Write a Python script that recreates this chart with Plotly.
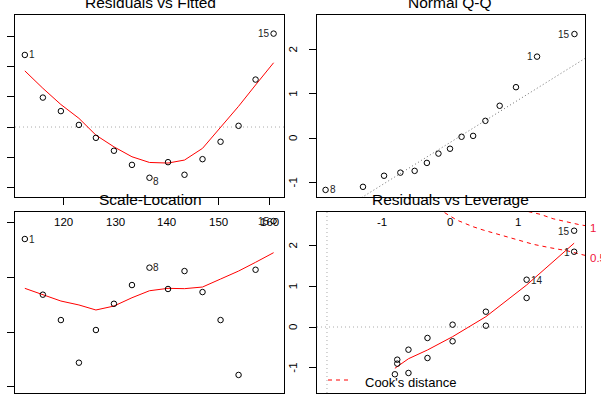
import plotly.graph_objects as go

FONT = "Liberation Sans, Arial, sans-serif"
W, H = 601, 394

# ---------------- data ----------------
# Residuals vs Fitted
fitted = [112.4, 115.9, 119.4, 122.9, 126.2, 129.7, 133.2, 136.6, 140.2, 143.4, 146.9, 150.4, 153.9, 157.2, 160.7]
resid = [2.40, 0.98, 0.53, 0.07, -0.36, -0.79, -1.26, -1.69, -1.17, -1.59, -1.07, -0.49, 0.04, 1.58, 3.11]
resid_smooth = [1.87, 1.29, 0.75, 0.29, -0.27, -0.66, -0.99, -1.18, -1.20, -1.10, -0.71, 0.00, 0.69, 1.40, 2.14]
resid_labels = {0: "1", 7: "8", 14: "15"}
fitted_ticks = [120, 150, 160]
fitted_ticklabels = [120, 130, 140, 150, 160]
resid_ticks = [3, 2, 1, 0, -1, -2]

# Normal Q-Q
theo_q = [-1.83, -1.28, -0.97, -0.73, -0.52, -0.34, -0.17, 0.0, 0.17, 0.34, 0.52, 0.73, 0.97, 1.28, 1.83]
std_resid_sorted = [-1.17, -1.10, -0.85, -0.78, -0.74, -0.56, -0.35, -0.24, 0.03, 0.05, 0.39, 0.73, 1.15, 1.84, 2.35]
qq_labels = {0: "8", 13: "1", 14: "15"}
qq_intercept = -0.10
qq_slope = 0.957
qq_xticks = [-1, 0, 1]
qq_yticks = [2, 1, 0, -1]

# Scale-Location
sqrt_std_resid = [1.353, 0.844, 0.612, 0.222, 0.521, 0.761, 0.932, 1.091, 0.896, 1.060, 0.868, 0.612, 0.110, 1.072, 1.517]
sl_smooth = [0.902, 0.847, 0.786, 0.750, 0.704, 0.740, 0.816, 0.880, 0.902, 0.899, 0.914, 0.987, 1.060, 1.140, 1.228]
sl_labels = {0: "1", 7: "8", 14: "15"}
sl_yticks = [1.5, 1.0, 0.5, 0.0]

# Residuals vs Leverage
leverage = [0.364, 0.364, 0.294, 0.294, 0.234, 0.234, 0.185, 0.185, 0.148, 0.148, 0.120, 0.120, 0.1035, 0.1035, 0.100]
lev_std_resid = [2.366, 1.850, 1.162, 0.713, 0.376, 0.032, 0.057, -0.351, -0.270, -0.762, -0.558, -1.130, -0.803, -0.901, -1.162]
lev_labels = {0: "15", 1: "1", 2: "14"}
lev_smooth_x = [0.100, 0.1035, 0.120, 0.148, 0.185, 0.234, 0.294, 0.364]
lev_smooth_y = [-1.015, -0.975, -0.780, -0.565, -0.238, 0.253, 1.032, 2.060]
cook05_x = [0.165, 0.171, 0.191, 0.215, 0.230, 0.255, 0.279, 0.304, 0.328, 0.353, 0.373, 0.385]
cook05_y = [2.95, 2.833, 2.629, 2.465, 2.383, 2.260, 2.137, 2.031, 1.950, 1.875, 1.790, 1.740]
cook1_x = [0.285, 0.294, 0.314, 0.333, 0.353, 0.373, 0.385]
cook1_y = [2.88, 2.84, 2.77, 2.66, 2.58, 2.51, 2.48]
cook_levels = ["1", "0.5"]
cook_label_y = [2.43, 1.70]
lev_yticks = [2, 1, 0, -1]

# ---------------- layout helpers ----------------
def fx(p):
    return p / W

def fy(p):
    return 1 - p / H

BOX = {
    1: ((15, 284), (15, 197)),
    2: ((317, 585), (15, 197)),
    3: ((15, 284), (212, 393)),
    4: ((317, 585), (212, 393)),
}
XR = {1: [110.49, 162.72], 2: [-1.956, 1.985], 3: [110.49, 162.72], 4: [-0.0147, 0.380]}
YR = {1: [-2.33, 3.73], 2: [-1.33, 2.78], 3: [-0.055, 1.600], 4: [-1.622, 2.826]}
XT = {1: fitted_ticks, 2: [], 3: [], 4: []}
YT = {1: resid_ticks, 2: qq_yticks, 3: sl_yticks, 4: lev_yticks}

fig = go.Figure()
layout = dict(
    width=W, height=H, margin=dict(l=0, r=0, t=0, b=0),
    paper_bgcolor="white", plot_bgcolor="white", showlegend=False,
    font=dict(family=FONT, color="black"),
)
for i in (1, 2, 3, 4):
    (x0, x1), (y0, y1) = BOX[i]
    sfx = "" if i == 1 else str(i)
    common = dict(showgrid=False, zeroline=False, showline=True, mirror=True,
                  linecolor="black", linewidth=1, showticklabels=False,
                  ticklen=7, tickcolor="black", tickwidth=1)
    layout["xaxis" + sfx] = dict(domain=[fx(x0), fx(x1)], range=XR[i],
                                 anchor="y" + sfx, tickmode="array", tickvals=XT[i],
                                 ticks="outside" if XT[i] else "", **common)
    layout["yaxis" + sfx] = dict(domain=[fy(y1), fy(y0)], range=YR[i],
                                 anchor="x" + sfx, tickmode="array", tickvals=YT[i],
                                 ticks="outside", **common)
fig.update_layout(**layout)

RED = "#FF0000"
DOT = "1px,3px"
pt = dict(symbol="circle-open", size=5.5, color="black", line=dict(width=1, color="black"))

def add_hline(xa, ya, y, color):
    fig.add_shape(type="line", xref=xa + " domain", yref=ya, x0=0, x1=1, y0=y, y1=y,
                  line=dict(color=color, width=1, dash=DOT), layer="below")

# Panel 1
add_hline("x", "y", 0, "#AAAAAA")
fig.add_trace(go.Scatter(x=fitted, y=resid_smooth, mode="lines", line=dict(color=RED, width=1), xaxis="x", yaxis="y"))
fig.add_trace(go.Scatter(x=fitted, y=resid, mode="markers", marker=pt, xaxis="x", yaxis="y"))

# Panel 2
qq_lx = XR[2]
qq_ly = [qq_intercept + qq_slope * v for v in qq_lx]
fig.add_trace(go.Scatter(x=qq_lx, y=qq_ly, mode="lines", line=dict(color="#6E6E6E", width=1, dash="1px,2.5px"), xaxis="x2", yaxis="y2"))
fig.add_trace(go.Scatter(x=theo_q, y=std_resid_sorted, mode="markers", marker=pt, xaxis="x2", yaxis="y2"))

# Panel 3
fig.add_trace(go.Scatter(x=fitted, y=sl_smooth, mode="lines", line=dict(color=RED, width=1), xaxis="x3", yaxis="y3"))
fig.add_trace(go.Scatter(x=fitted, y=sqrt_std_resid, mode="markers", marker=pt, xaxis="x3", yaxis="y3"))

# Panel 4
add_hline("x4", "y4", 0, "#AAAAAA")
fig.add_shape(type="line", xref="x4", yref="y4 domain", x0=0, x1=0, y0=0, y1=1,
              line=dict(color="#AAAAAA", width=1, dash=DOT), layer="below")
for cx, cy in ((cook05_x, cook05_y), (cook1_x, cook1_y)):
    fig.add_trace(go.Scatter(x=cx, y=cy, mode="lines", line=dict(color=RED, width=1, dash="4px,4px"), xaxis="x4", yaxis="y4"))
fig.add_trace(go.Scatter(x=lev_smooth_x, y=lev_smooth_y, mode="lines", line=dict(color=RED, width=1), xaxis="x4", yaxis="y4"))
fig.add_trace(go.Scatter(x=leverage, y=lev_std_resid, mode="markers", marker=pt, xaxis="x4", yaxis="y4"))

ann = []

def lab(x, y, text, side, xr, yr, dy=0):
    ann.append(dict(x=x, y=y, xref=xr, yref=yr, text=text, showarrow=False,
                    xanchor="left" if side == "r" else "right",
                    xshift=2 if side == "r" else -2, yshift=dy,
                    font=dict(size=10, color="#222222", family=FONT)))

for i, t in resid_labels.items():
    side = "l" if t == "15" else "r"
    lab(fitted[i], resid[i], t, side, "x", "y", -4 if t == "8" else 0)
for i, t in qq_labels.items():
    side = "r" if t == "8" else "l"
    lab(theo_q[i], std_resid_sorted[i], t, side, "x2", "y2")
for i, t in sl_labels.items():
    side = "l" if t == "15" else "r"
    lab(fitted[i], sqrt_std_resid[i], t, side, "x3", "y3")
for i, t in lev_labels.items():
    side = "r" if t == "14" else "l"
    lab(leverage[i], lev_std_resid[i], t, side, "x4", "y4", -1)

TICKF = dict(size=11.5, color="black", family=FONT)
for v in fitted_ticklabels:
    ann.append(dict(x=v, y=fy(222), xref="x", yref="paper", text=str(v), showarrow=False,
                    xanchor="center", yanchor="middle", font=TICKF))
for v in qq_xticks:
    ann.append(dict(x=v, y=fy(222), xref="x2", yref="paper", text=str(v), showarrow=False,
                    xanchor="center", yanchor="middle", font=TICKF))
for v in qq_yticks:
    ann.append(dict(x=fx(293), y=v, xref="paper", yref="y2", text=str(v), showarrow=False,
                    textangle=-90, xanchor="center", yanchor="middle", font=TICKF))
for v in lev_yticks:
    ann.append(dict(x=fx(293), y=v, xref="paper", yref="y4", text=str(v), showarrow=False,
                    textangle=-90, xanchor="center", yanchor="middle", font=TICKF))

for t, yv in zip(cook_levels, cook_label_y):
    ann.append(dict(x=fx(588), y=yv, xref="paper", yref="y4", text=t, showarrow=False,
                    xanchor="left", yanchor="middle", font=dict(size=11.5, color="#F0143C", family=FONT)))

TITLEF = dict(size=15.5, color="black", family=FONT)
for t, cx, cy in (("Residuals vs Fitted", 150, 2), ("Normal Q-Q", 450, 2),
                  ("Scale-Location", 150, 199), ("Residuals vs Leverage", 450, 199)):
    ann.append(dict(x=fx(cx), y=fy(cy), xref="paper", yref="paper", text=t, showarrow=False,
                    xanchor="center", yanchor="middle", font=TITLEF))

# legend for Cook's distance
fig.add_shape(type="line", xref="paper", yref="paper", x0=fx(328), x1=fx(350), y0=fy(380), y1=fy(380),
              line=dict(color=RED, width=1, dash="4px,4px"))
ann.append(dict(x=fx(363), y=fy(382), xref="paper", yref="paper", text="Cook's distance", showarrow=False,
                xanchor="left", yanchor="middle", font=dict(size=13, color="black", family=FONT)))

fig.update_layout(annotations=ann)
fig.write_html("out.html", config={"displayModeBar": False},
               post_script="document.body.style.margin='0';document.body.style.overflow='hidden';")
